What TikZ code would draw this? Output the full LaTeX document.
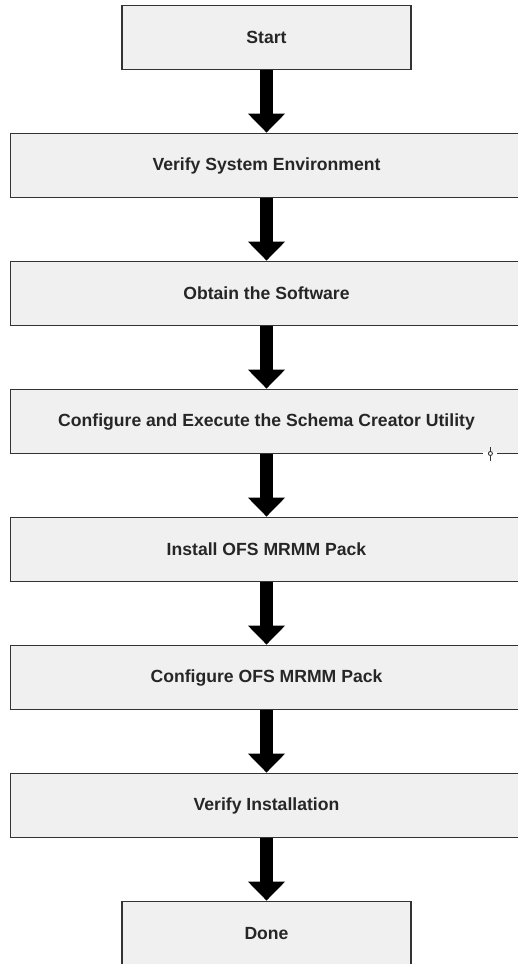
\documentclass[tikz,border=0pt]{standalone}
\usepackage{fontspec}
\setmainfont{Liberation Sans}
\usetikzlibrary{arrows.meta, positioning}

\definecolor{boxfill}{HTML}{F0F0F0}
\definecolor{boxline}{HTML}{333333}

\begin{document}
\begin{tikzpicture}[
    x=1pt, y=1pt,
    stage/.style={draw=boxline, line width=1.8pt, fill=boxfill,
                  minimum width=289pt, minimum height=64pt,
                  font=\bfseries\fontsize{17.6}{20}\selectfont, text=black!85},
    widestage/.style={stage, minimum width=512pt},
    flow/.style={-{Triangle[width=36pt, length=19pt]}, line width=13pt},
    node distance=62.2pt
  ]
  \useasboundingbox (0,0) rectangle (517,-964);

  \node[stage] (start) at (266.5,-37.5) {Start};
  \node[widestage, below=of start] (env) {Verify System Environment};
  \node[widestage, below=of env] (obtain) {Obtain the Software};
  \node[widestage, below=of obtain] (schema) {Configure and Execute the Schema Creator Utility};
  \node[widestage, below=of schema] (install) {Install OFS MRMM Pack};
  \node[widestage, below=of install] (config) {Configure OFS MRMM Pack};
  \node[widestage, below=of config] (check) {Verify Installation};
  \node[stage, below=of check] (done) {Done};

  \draw[flow] (start) -- (env);
  \draw[flow] (env) -- (obtain);
  \draw[flow] (obtain) -- (schema);
  \draw[flow] (schema) -- (install);
  \draw[flow] (install) -- (config);
  \draw[flow] (config) -- (check);
  \draw[flow] (check) -- (done);

  % resize handle on the schema box
  \coordinate (grip) at ([xshift=-33pt, yshift=0.9pt]schema.south east);
  \fill[white] ([xshift=-7pt, yshift=-1.4pt]grip) rectangle ([xshift=7pt, yshift=1.4pt]grip);
  \draw[boxline, line width=1pt] ([yshift=-7pt]grip) -- ([yshift=7pt]grip);
  \draw[boxline, line width=0.9pt, fill=white] (grip) circle (2pt);
\end{tikzpicture}
\end{document}
